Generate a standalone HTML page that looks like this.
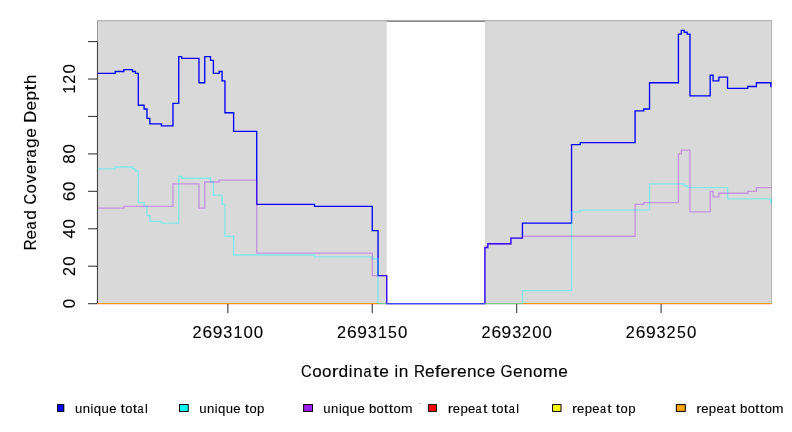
<!DOCTYPE html>
<html><head><meta charset="utf-8"><style>
html,body{margin:0;padding:0;background:#fff;width:792px;height:432px;overflow:hidden}
svg{display:block;will-change:transform}
</style></head><body>
<svg width="792" height="432" viewBox="0 0 792 432">
<rect width="792" height="432" fill="#fff"/>
<rect x="97.5" y="20.5" width="674.0" height="283.0" fill="#d9d9d9" stroke="#b3b3b3" stroke-width="1"/>
<line x1="97.5" y1="21.5" x2="771.0" y2="21.5" stroke="#cfcfcf" stroke-width="1"/>
<line x1="97.5" y1="21" x2="97.5" y2="41.57" stroke="#959595" stroke-width="1"/>
<line x1="98.5" y1="21" x2="98.5" y2="303.66" stroke="#e2e2e2" stroke-width="1"/>
<rect x="386.70" y="21" width="98.20" height="282.66" fill="#fff"/>
<line x1="386.70" y1="21.3" x2="484.90" y2="21.3" stroke="#8a8a8a" stroke-width="1.2"/>
<line x1="97.5" y1="41.57" x2="97.5" y2="303.66" stroke="#444" stroke-width="1.15"/>
<line x1="88" y1="303.66" x2="97.5" y2="303.66" stroke="#444" stroke-width="1.15"/>
<line x1="88" y1="266.22" x2="97.5" y2="266.22" stroke="#444" stroke-width="1.15"/>
<line x1="88" y1="228.78" x2="97.5" y2="228.78" stroke="#444" stroke-width="1.15"/>
<line x1="88" y1="191.34" x2="97.5" y2="191.34" stroke="#444" stroke-width="1.15"/>
<line x1="88" y1="153.90" x2="97.5" y2="153.90" stroke="#444" stroke-width="1.15"/>
<line x1="88" y1="116.46" x2="97.5" y2="116.46" stroke="#444" stroke-width="1.15"/>
<line x1="88" y1="79.02" x2="97.5" y2="79.02" stroke="#444" stroke-width="1.15"/>
<line x1="88" y1="41.57" x2="97.5" y2="41.57" stroke="#444" stroke-width="1.15"/>
<line x1="227.84" y1="303.66" x2="227.84" y2="313" stroke="#444" stroke-width="1.15"/>
<line x1="372.26" y1="303.66" x2="372.26" y2="313" stroke="#444" stroke-width="1.15"/>
<line x1="516.67" y1="303.66" x2="516.67" y2="313" stroke="#444" stroke-width="1.15"/>
<line x1="661.08" y1="303.66" x2="661.08" y2="313" stroke="#444" stroke-width="1.15"/>
<line x1="97.5" y1="304.5" x2="771.5" y2="304.5" stroke="#ff0000" stroke-opacity="0.15" stroke-width="1"/>
<line x1="97.5" y1="303.5" x2="386.70" y2="303.5" stroke="#ff9800" stroke-width="1"/>
<line x1="484.90" y1="303.5" x2="771.5" y2="303.5" stroke="#ff9800" stroke-width="1"/>
<path d="M97.50 73.40H115.20V71.53H123.86V69.66H132.53V71.53H135.42V73.40H138.31V105.22H144.08V108.97H146.97V118.33H149.86V123.94H161.41V125.82H172.97V103.35H178.74V56.55H181.63V58.42H198.96V82.76H204.74V56.55H210.51V60.29H213.40V73.40H219.18V71.53H222.07V80.89H224.95V112.71H233.62V131.43H256.73V204.44H314.49V206.31H372.26V230.65H378.03V275.58H386.70V303.66H484.90V247.50H487.79V243.75H510.89V238.14H522.45V223.16H571.55V144.54H580.21V142.66H635.09V110.84H643.76V108.97H649.53V82.76H678.41V34.09H681.30V30.34H684.19V32.21H687.08V34.09H689.97V95.86H710.19V75.27H713.07V80.89H718.85V77.14H727.52V88.38H747.73V86.50H756.40V82.76H770.84V86.50H771.50" fill="none" stroke="#0000ff" stroke-width="1.33"/>
<path d="M97.50 168.87H115.20V167.00H132.53V168.87H135.42V170.75H138.31V202.57H144.08V206.31H146.97V215.67H149.86V221.29H161.41V223.16H178.74V176.36H181.63V178.23H210.51V181.98H213.40V195.08H222.07V204.44H224.95V236.27H233.62V254.99H314.49V256.86H372.26V258.73H378.03V303.66H522.45V290.56H571.55V211.93H580.21V210.06H649.53V183.85H684.19V185.72H687.08V187.59H727.52V198.83H770.84V202.57H771.50" fill="none" stroke="#00ffff" stroke-opacity="0.4" stroke-width="1.33"/>
<path d="M97.50 208.19H123.86V206.31H172.97V183.85H198.96V208.19H204.74V181.98H219.18V180.11H256.73V253.11H372.26V275.58H386.70V303.66H484.90V247.50H487.79V243.75H510.89V238.14H522.45V236.27H635.09V204.44H643.76V202.57H678.41V153.90H681.30V150.15H689.97V211.93H710.19V191.34H713.07V196.95H718.85V193.21H747.73V191.34H756.40V187.59H770.84V187.59H771.50" fill="none" stroke="#a020f0" stroke-opacity="0.38" stroke-width="1.33"/>
<line x1="378.63" y1="303.5" x2="386.10" y2="303.5" stroke="rgb(115,205,130)" stroke-width="1"/>
<line x1="485.50" y1="303.5" x2="521.85" y2="303.5" stroke="rgb(115,205,130)" stroke-width="1"/>
<text transform="translate(192.57 337.70) scale(0.991 1)" font-family="Liberation Sans, sans-serif" font-size="16.4" fill="#000" stroke="#000" stroke-width="0.121">2</text>
<text transform="translate(202.62 337.70) scale(1.064 1)" font-family="Liberation Sans, sans-serif" font-size="16.4" fill="#000" stroke="#000" stroke-width="0.113">6</text>
<text transform="translate(212.76 337.70) scale(1.062 1)" font-family="Liberation Sans, sans-serif" font-size="16.4" fill="#000" stroke="#000" stroke-width="0.113">9</text>
<text transform="translate(223.36 337.70) scale(0.988 1)" font-family="Liberation Sans, sans-serif" font-size="16.4" fill="#000" stroke="#000" stroke-width="0.121">3</text>
<text transform="translate(233.46 337.70) scale(0.982 1)" font-family="Liberation Sans, sans-serif" font-size="16.4" fill="#000" stroke="#000" stroke-width="0.122">1</text>
<text transform="translate(243.51 337.70) scale(1.028 1)" font-family="Liberation Sans, sans-serif" font-size="16.4" fill="#000" stroke="#000" stroke-width="0.117">0</text>
<text transform="translate(253.69 337.70) scale(1.028 1)" font-family="Liberation Sans, sans-serif" font-size="16.4" fill="#000" stroke="#000" stroke-width="0.117">0</text>
<text transform="translate(336.98 337.70) scale(0.991 1)" font-family="Liberation Sans, sans-serif" font-size="16.4" fill="#000" stroke="#000" stroke-width="0.121">2</text>
<text transform="translate(347.04 337.70) scale(1.064 1)" font-family="Liberation Sans, sans-serif" font-size="16.4" fill="#000" stroke="#000" stroke-width="0.113">6</text>
<text transform="translate(357.18 337.70) scale(1.062 1)" font-family="Liberation Sans, sans-serif" font-size="16.4" fill="#000" stroke="#000" stroke-width="0.113">9</text>
<text transform="translate(367.77 337.70) scale(0.988 1)" font-family="Liberation Sans, sans-serif" font-size="16.4" fill="#000" stroke="#000" stroke-width="0.121">3</text>
<text transform="translate(377.88 337.70) scale(0.982 1)" font-family="Liberation Sans, sans-serif" font-size="16.4" fill="#000" stroke="#000" stroke-width="0.122">1</text>
<text transform="translate(388.12 337.70) scale(0.971 1)" font-family="Liberation Sans, sans-serif" font-size="16.4" fill="#000" stroke="#000" stroke-width="0.124">5</text>
<text transform="translate(398.10 337.70) scale(1.028 1)" font-family="Liberation Sans, sans-serif" font-size="16.4" fill="#000" stroke="#000" stroke-width="0.117">0</text>
<text transform="translate(481.40 337.70) scale(0.991 1)" font-family="Liberation Sans, sans-serif" font-size="16.4" fill="#000" stroke="#000" stroke-width="0.121">2</text>
<text transform="translate(491.45 337.70) scale(1.064 1)" font-family="Liberation Sans, sans-serif" font-size="16.4" fill="#000" stroke="#000" stroke-width="0.113">6</text>
<text transform="translate(501.59 337.70) scale(1.062 1)" font-family="Liberation Sans, sans-serif" font-size="16.4" fill="#000" stroke="#000" stroke-width="0.113">9</text>
<text transform="translate(512.18 337.70) scale(0.988 1)" font-family="Liberation Sans, sans-serif" font-size="16.4" fill="#000" stroke="#000" stroke-width="0.121">3</text>
<text transform="translate(522.12 337.70) scale(0.991 1)" font-family="Liberation Sans, sans-serif" font-size="16.4" fill="#000" stroke="#000" stroke-width="0.121">2</text>
<text transform="translate(532.34 337.70) scale(1.028 1)" font-family="Liberation Sans, sans-serif" font-size="16.4" fill="#000" stroke="#000" stroke-width="0.117">0</text>
<text transform="translate(542.52 337.70) scale(1.028 1)" font-family="Liberation Sans, sans-serif" font-size="16.4" fill="#000" stroke="#000" stroke-width="0.117">0</text>
<text transform="translate(625.81 337.70) scale(0.991 1)" font-family="Liberation Sans, sans-serif" font-size="16.4" fill="#000" stroke="#000" stroke-width="0.121">2</text>
<text transform="translate(635.87 337.70) scale(1.064 1)" font-family="Liberation Sans, sans-serif" font-size="16.4" fill="#000" stroke="#000" stroke-width="0.113">6</text>
<text transform="translate(646.01 337.70) scale(1.062 1)" font-family="Liberation Sans, sans-serif" font-size="16.4" fill="#000" stroke="#000" stroke-width="0.113">9</text>
<text transform="translate(656.60 337.70) scale(0.988 1)" font-family="Liberation Sans, sans-serif" font-size="16.4" fill="#000" stroke="#000" stroke-width="0.121">3</text>
<text transform="translate(666.53 337.70) scale(0.991 1)" font-family="Liberation Sans, sans-serif" font-size="16.4" fill="#000" stroke="#000" stroke-width="0.121">2</text>
<text transform="translate(676.95 337.70) scale(0.971 1)" font-family="Liberation Sans, sans-serif" font-size="16.4" fill="#000" stroke="#000" stroke-width="0.124">5</text>
<text transform="translate(686.93 337.70) scale(1.028 1)" font-family="Liberation Sans, sans-serif" font-size="16.4" fill="#000" stroke="#000" stroke-width="0.117">0</text>
<text transform="translate(75.2 303.66) rotate(-90) translate(-4.69 0.00) scale(1.028 1)" font-family="Liberation Sans, sans-serif" font-size="16.4" fill="#000" stroke="#000" stroke-width="0.117">0</text>
<text transform="translate(75.2 266.22) rotate(-90) translate(-9.83 0.00) scale(0.991 1)" font-family="Liberation Sans, sans-serif" font-size="16.4" fill="#000" stroke="#000" stroke-width="0.121">2</text>
<text transform="translate(75.2 266.22) rotate(-90) translate(0.40 0.00) scale(1.028 1)" font-family="Liberation Sans, sans-serif" font-size="16.4" fill="#000" stroke="#000" stroke-width="0.117">0</text>
<text transform="translate(75.2 228.78) rotate(-90) translate(-9.79 0.00) scale(1.029 1)" font-family="Liberation Sans, sans-serif" font-size="16.4" fill="#000" stroke="#000" stroke-width="0.117">4</text>
<text transform="translate(75.2 228.78) rotate(-90) translate(0.40 0.00) scale(1.028 1)" font-family="Liberation Sans, sans-serif" font-size="16.4" fill="#000" stroke="#000" stroke-width="0.117">0</text>
<text transform="translate(75.2 191.34) rotate(-90) translate(-9.95 0.00) scale(1.064 1)" font-family="Liberation Sans, sans-serif" font-size="16.4" fill="#000" stroke="#000" stroke-width="0.113">6</text>
<text transform="translate(75.2 191.34) rotate(-90) translate(0.40 0.00) scale(1.028 1)" font-family="Liberation Sans, sans-serif" font-size="16.4" fill="#000" stroke="#000" stroke-width="0.117">0</text>
<text transform="translate(75.2 153.90) rotate(-90) translate(-9.83 0.00) scale(1.040 1)" font-family="Liberation Sans, sans-serif" font-size="16.4" fill="#000" stroke="#000" stroke-width="0.115">8</text>
<text transform="translate(75.2 153.90) rotate(-90) translate(0.40 0.00) scale(1.028 1)" font-family="Liberation Sans, sans-serif" font-size="16.4" fill="#000" stroke="#000" stroke-width="0.117">0</text>
<text transform="translate(75.2 79.02) rotate(-90) translate(-14.74 0.00) scale(0.982 1)" font-family="Liberation Sans, sans-serif" font-size="16.4" fill="#000" stroke="#000" stroke-width="0.122">1</text>
<text transform="translate(75.2 79.02) rotate(-90) translate(-4.74 0.00) scale(0.991 1)" font-family="Liberation Sans, sans-serif" font-size="16.4" fill="#000" stroke="#000" stroke-width="0.121">2</text>
<text transform="translate(75.2 79.02) rotate(-90) translate(5.49 0.00) scale(1.028 1)" font-family="Liberation Sans, sans-serif" font-size="16.4" fill="#000" stroke="#000" stroke-width="0.117">0</text>
<text transform="translate(35.6 162.5) rotate(-90) translate(-87.93 0.00) scale(0.916 1)" font-family="Liberation Sans, sans-serif" font-size="16.7" fill="#000" stroke="#000" stroke-width="0.131">R</text>
<text transform="translate(35.6 162.5) rotate(-90) translate(-76.98 0.00) scale(1.035 1)" font-family="Liberation Sans, sans-serif" font-size="16.7" fill="#000" stroke="#000" stroke-width="0.116">e</text>
<text transform="translate(35.6 162.5) rotate(-90) translate(-66.93 0.00) scale(0.862 1)" font-family="Liberation Sans, sans-serif" font-size="16.7" fill="#000" stroke="#000" stroke-width="0.139">a</text>
<text transform="translate(35.6 162.5) rotate(-90) translate(-57.32 0.00) scale(1.041 1)" font-family="Liberation Sans, sans-serif" font-size="16.7" fill="#000" stroke="#000" stroke-width="0.115">d</text>
<text transform="translate(35.6 162.5) rotate(-90) translate(-42.09 0.00) scale(0.889 1)" font-family="Liberation Sans, sans-serif" font-size="16.7" fill="#000" stroke="#000" stroke-width="0.135">C</text>
<text transform="translate(35.6 162.5) rotate(-90) translate(-30.89 0.00) scale(1.019 1)" font-family="Liberation Sans, sans-serif" font-size="16.7" fill="#000" stroke="#000" stroke-width="0.118">o</text>
<text transform="translate(35.6 162.5) rotate(-90) translate(-20.86 0.00) scale(1.034 1)" font-family="Liberation Sans, sans-serif" font-size="16.7" fill="#000" stroke="#000" stroke-width="0.116">v</text>
<text transform="translate(35.6 162.5) rotate(-90) translate(-11.66 0.00) scale(1.035 1)" font-family="Liberation Sans, sans-serif" font-size="16.7" fill="#000" stroke="#000" stroke-width="0.116">e</text>
<text transform="translate(35.6 162.5) rotate(-90) translate(-1.87 0.00) scale(1.228 1)" font-family="Liberation Sans, sans-serif" font-size="16.7" fill="#000" stroke="#000" stroke-width="0.098">r</text>
<text transform="translate(35.6 162.5) rotate(-90) translate(4.97 0.00) scale(0.862 1)" font-family="Liberation Sans, sans-serif" font-size="16.7" fill="#000" stroke="#000" stroke-width="0.139">a</text>
<text transform="translate(35.6 162.5) rotate(-90) translate(14.57 0.00) scale(1.041 1)" font-family="Liberation Sans, sans-serif" font-size="16.7" fill="#000" stroke="#000" stroke-width="0.115">g</text>
<text transform="translate(35.6 162.5) rotate(-90) translate(24.73 0.00) scale(1.035 1)" font-family="Liberation Sans, sans-serif" font-size="16.7" fill="#000" stroke="#000" stroke-width="0.116">e</text>
<text transform="translate(35.6 162.5) rotate(-90) translate(39.72 0.00) scale(0.991 1)" font-family="Liberation Sans, sans-serif" font-size="16.7" fill="#000" stroke="#000" stroke-width="0.121">D</text>
<text transform="translate(35.6 162.5) rotate(-90) translate(51.98 0.00) scale(1.035 1)" font-family="Liberation Sans, sans-serif" font-size="16.7" fill="#000" stroke="#000" stroke-width="0.116">e</text>
<text transform="translate(35.6 162.5) rotate(-90) translate(62.00 0.00) scale(1.042 1)" font-family="Liberation Sans, sans-serif" font-size="16.7" fill="#000" stroke="#000" stroke-width="0.115">p</text>
<text transform="translate(35.6 162.5) rotate(-90) translate(71.93 0.00) scale(1.280 1)" font-family="Liberation Sans, sans-serif" font-size="16.7" fill="#000" stroke="#000" stroke-width="0.094">t</text>
<text transform="translate(35.6 162.5) rotate(-90) translate(78.35 0.00) scale(1.040 1)" font-family="Liberation Sans, sans-serif" font-size="16.7" fill="#000" stroke="#000" stroke-width="0.115">h</text>
<text transform="translate(301.11 376.60) scale(0.889 1)" font-family="Liberation Sans, sans-serif" font-size="16.7" fill="#000" stroke="#000" stroke-width="0.135">C</text>
<text transform="translate(312.30 376.60) scale(1.019 1)" font-family="Liberation Sans, sans-serif" font-size="16.7" fill="#000" stroke="#000" stroke-width="0.118">o</text>
<text transform="translate(322.09 376.60) scale(1.019 1)" font-family="Liberation Sans, sans-serif" font-size="16.7" fill="#000" stroke="#000" stroke-width="0.118">o</text>
<text transform="translate(331.80 376.60) scale(1.228 1)" font-family="Liberation Sans, sans-serif" font-size="16.7" fill="#000" stroke="#000" stroke-width="0.098">r</text>
<text transform="translate(338.44 376.60) scale(1.041 1)" font-family="Liberation Sans, sans-serif" font-size="16.7" fill="#000" stroke="#000" stroke-width="0.115">d</text>
<text transform="translate(348.86 376.60) scale(0.979 1)" font-family="Liberation Sans, sans-serif" font-size="16.7" fill="#000" stroke="#000" stroke-width="0.123">i</text>
<text transform="translate(353.20 376.60) scale(1.033 1)" font-family="Liberation Sans, sans-serif" font-size="16.7" fill="#000" stroke="#000" stroke-width="0.116">n</text>
<text transform="translate(363.38 376.60) scale(0.862 1)" font-family="Liberation Sans, sans-serif" font-size="16.7" fill="#000" stroke="#000" stroke-width="0.139">a</text>
<text transform="translate(372.94 376.60) scale(1.280 1)" font-family="Liberation Sans, sans-serif" font-size="16.7" fill="#000" stroke="#000" stroke-width="0.094">t</text>
<text transform="translate(379.26 376.60) scale(1.035 1)" font-family="Liberation Sans, sans-serif" font-size="16.7" fill="#000" stroke="#000" stroke-width="0.116">e</text>
<text transform="translate(394.45 376.60) scale(0.979 1)" font-family="Liberation Sans, sans-serif" font-size="16.7" fill="#000" stroke="#000" stroke-width="0.123">i</text>
<text transform="translate(398.79 376.60) scale(1.033 1)" font-family="Liberation Sans, sans-serif" font-size="16.7" fill="#000" stroke="#000" stroke-width="0.116">n</text>
<text transform="translate(414.03 376.60) scale(0.916 1)" font-family="Liberation Sans, sans-serif" font-size="16.7" fill="#000" stroke="#000" stroke-width="0.131">R</text>
<text transform="translate(424.98 376.60) scale(1.035 1)" font-family="Liberation Sans, sans-serif" font-size="16.7" fill="#000" stroke="#000" stroke-width="0.116">e</text>
<text transform="translate(434.74 376.60) scale(1.258 1)" font-family="Liberation Sans, sans-serif" font-size="16.7" fill="#000" stroke="#000" stroke-width="0.095">f</text>
<text transform="translate(440.45 376.60) scale(1.035 1)" font-family="Liberation Sans, sans-serif" font-size="16.7" fill="#000" stroke="#000" stroke-width="0.116">e</text>
<text transform="translate(450.24 376.60) scale(1.228 1)" font-family="Liberation Sans, sans-serif" font-size="16.7" fill="#000" stroke="#000" stroke-width="0.098">r</text>
<text transform="translate(456.88 376.60) scale(1.035 1)" font-family="Liberation Sans, sans-serif" font-size="16.7" fill="#000" stroke="#000" stroke-width="0.116">e</text>
<text transform="translate(466.88 376.60) scale(1.033 1)" font-family="Liberation Sans, sans-serif" font-size="16.7" fill="#000" stroke="#000" stroke-width="0.116">n</text>
<text transform="translate(476.91 376.60) scale(0.961 1)" font-family="Liberation Sans, sans-serif" font-size="16.7" fill="#000" stroke="#000" stroke-width="0.125">c</text>
<text transform="translate(485.66 376.60) scale(1.035 1)" font-family="Liberation Sans, sans-serif" font-size="16.7" fill="#000" stroke="#000" stroke-width="0.116">e</text>
<text transform="translate(500.55 376.60) scale(0.934 1)" font-family="Liberation Sans, sans-serif" font-size="16.7" fill="#000" stroke="#000" stroke-width="0.128">G</text>
<text transform="translate(512.98 376.60) scale(1.035 1)" font-family="Liberation Sans, sans-serif" font-size="16.7" fill="#000" stroke="#000" stroke-width="0.116">e</text>
<text transform="translate(522.99 376.60) scale(1.033 1)" font-family="Liberation Sans, sans-serif" font-size="16.7" fill="#000" stroke="#000" stroke-width="0.116">n</text>
<text transform="translate(532.99 376.60) scale(1.019 1)" font-family="Liberation Sans, sans-serif" font-size="16.7" fill="#000" stroke="#000" stroke-width="0.118">o</text>
<text transform="translate(542.85 376.60) scale(1.092 1)" font-family="Liberation Sans, sans-serif" font-size="16.7" fill="#000" stroke="#000" stroke-width="0.110">m</text>
<text transform="translate(558.34 376.60) scale(1.035 1)" font-family="Liberation Sans, sans-serif" font-size="16.7" fill="#000" stroke="#000" stroke-width="0.116">e</text>
<rect x="57.60" y="404.6" width="6.20" height="6.8" fill="#0000ff" stroke="#000" stroke-width="1"/>
<text transform="translate(75.05 412.60) scale(1.065 1)" font-family="Liberation Sans, sans-serif" font-size="12.3" fill="#000" stroke="#000" stroke-width="0.113">u</text>
<text transform="translate(82.80 412.60) scale(1.065 1)" font-family="Liberation Sans, sans-serif" font-size="12.3" fill="#000" stroke="#000" stroke-width="0.113">n</text>
<text transform="translate(90.58 412.60) scale(1.010 1)" font-family="Liberation Sans, sans-serif" font-size="12.3" fill="#000" stroke="#000" stroke-width="0.119">i</text>
<text transform="translate(93.76 412.60) scale(1.072 1)" font-family="Liberation Sans, sans-serif" font-size="12.3" fill="#000" stroke="#000" stroke-width="0.112">q</text>
<text transform="translate(101.54 412.60) scale(1.065 1)" font-family="Liberation Sans, sans-serif" font-size="12.3" fill="#000" stroke="#000" stroke-width="0.113">u</text>
<text transform="translate(109.17 412.60) scale(1.067 1)" font-family="Liberation Sans, sans-serif" font-size="12.3" fill="#000" stroke="#000" stroke-width="0.112">e</text>
<text transform="translate(120.51 412.60) scale(1.300 1)" font-family="Liberation Sans, sans-serif" font-size="12.3" fill="#000" stroke="#000" stroke-width="0.092">t</text>
<text transform="translate(125.29 412.60) scale(1.050 1)" font-family="Liberation Sans, sans-serif" font-size="12.3" fill="#000" stroke="#000" stroke-width="0.114">o</text>
<text transform="translate(132.71 412.60) scale(1.300 1)" font-family="Liberation Sans, sans-serif" font-size="12.3" fill="#000" stroke="#000" stroke-width="0.092">t</text>
<text transform="translate(137.62 412.60) scale(0.888 1)" font-family="Liberation Sans, sans-serif" font-size="12.3" fill="#000" stroke="#000" stroke-width="0.135">a</text>
<text transform="translate(145.11 412.60) scale(1.010 1)" font-family="Liberation Sans, sans-serif" font-size="12.3" fill="#000" stroke="#000" stroke-width="0.119">l</text>
<rect x="179.50" y="404.6" width="8.75" height="6.8" fill="#00ffff" stroke="#000" stroke-width="1"/>
<text transform="translate(199.25 412.60) scale(1.065 1)" font-family="Liberation Sans, sans-serif" font-size="12.3" fill="#000" stroke="#000" stroke-width="0.113">u</text>
<text transform="translate(207.00 412.60) scale(1.065 1)" font-family="Liberation Sans, sans-serif" font-size="12.3" fill="#000" stroke="#000" stroke-width="0.113">n</text>
<text transform="translate(214.78 412.60) scale(1.010 1)" font-family="Liberation Sans, sans-serif" font-size="12.3" fill="#000" stroke="#000" stroke-width="0.119">i</text>
<text transform="translate(217.96 412.60) scale(1.072 1)" font-family="Liberation Sans, sans-serif" font-size="12.3" fill="#000" stroke="#000" stroke-width="0.112">q</text>
<text transform="translate(225.74 412.60) scale(1.065 1)" font-family="Liberation Sans, sans-serif" font-size="12.3" fill="#000" stroke="#000" stroke-width="0.113">u</text>
<text transform="translate(233.37 412.60) scale(1.067 1)" font-family="Liberation Sans, sans-serif" font-size="12.3" fill="#000" stroke="#000" stroke-width="0.112">e</text>
<text transform="translate(244.71 412.60) scale(1.300 1)" font-family="Liberation Sans, sans-serif" font-size="12.3" fill="#000" stroke="#000" stroke-width="0.092">t</text>
<text transform="translate(249.49 412.60) scale(1.050 1)" font-family="Liberation Sans, sans-serif" font-size="12.3" fill="#000" stroke="#000" stroke-width="0.114">o</text>
<text transform="translate(257.04 412.60) scale(1.075 1)" font-family="Liberation Sans, sans-serif" font-size="12.3" fill="#000" stroke="#000" stroke-width="0.112">p</text>
<rect x="303.60" y="404.6" width="8.90" height="6.8" fill="#a020f0" stroke="#000" stroke-width="1"/>
<text transform="translate(323.35 412.60) scale(1.065 1)" font-family="Liberation Sans, sans-serif" font-size="12.3" fill="#000" stroke="#000" stroke-width="0.113">u</text>
<text transform="translate(331.10 412.60) scale(1.065 1)" font-family="Liberation Sans, sans-serif" font-size="12.3" fill="#000" stroke="#000" stroke-width="0.113">n</text>
<text transform="translate(338.88 412.60) scale(1.010 1)" font-family="Liberation Sans, sans-serif" font-size="12.3" fill="#000" stroke="#000" stroke-width="0.119">i</text>
<text transform="translate(342.06 412.60) scale(1.072 1)" font-family="Liberation Sans, sans-serif" font-size="12.3" fill="#000" stroke="#000" stroke-width="0.112">q</text>
<text transform="translate(349.84 412.60) scale(1.065 1)" font-family="Liberation Sans, sans-serif" font-size="12.3" fill="#000" stroke="#000" stroke-width="0.113">u</text>
<text transform="translate(357.47 412.60) scale(1.067 1)" font-family="Liberation Sans, sans-serif" font-size="12.3" fill="#000" stroke="#000" stroke-width="0.112">e</text>
<text transform="translate(368.95 412.60) scale(1.075 1)" font-family="Liberation Sans, sans-serif" font-size="12.3" fill="#000" stroke="#000" stroke-width="0.112">b</text>
<text transform="translate(376.54 412.60) scale(1.050 1)" font-family="Liberation Sans, sans-serif" font-size="12.3" fill="#000" stroke="#000" stroke-width="0.114">o</text>
<text transform="translate(383.96 412.60) scale(1.300 1)" font-family="Liberation Sans, sans-serif" font-size="12.3" fill="#000" stroke="#000" stroke-width="0.092">t</text>
<text transform="translate(388.72 412.60) scale(1.300 1)" font-family="Liberation Sans, sans-serif" font-size="12.3" fill="#000" stroke="#000" stroke-width="0.092">t</text>
<text transform="translate(393.50 412.60) scale(1.050 1)" font-family="Liberation Sans, sans-serif" font-size="12.3" fill="#000" stroke="#000" stroke-width="0.114">o</text>
<text transform="translate(400.99 412.60) scale(1.125 1)" font-family="Liberation Sans, sans-serif" font-size="12.3" fill="#000" stroke="#000" stroke-width="0.107">m</text>
<rect x="428.60" y="404.6" width="7.80" height="6.8" fill="#ff0000" stroke="#000" stroke-width="1"/>
<text transform="translate(447.77 412.60) scale(1.266 1)" font-family="Liberation Sans, sans-serif" font-size="12.3" fill="#000" stroke="#000" stroke-width="0.095">r</text>
<text transform="translate(452.80 412.60) scale(1.067 1)" font-family="Liberation Sans, sans-serif" font-size="12.3" fill="#000" stroke="#000" stroke-width="0.112">e</text>
<text transform="translate(460.42 412.60) scale(1.075 1)" font-family="Liberation Sans, sans-serif" font-size="12.3" fill="#000" stroke="#000" stroke-width="0.112">p</text>
<text transform="translate(467.99 412.60) scale(1.067 1)" font-family="Liberation Sans, sans-serif" font-size="12.3" fill="#000" stroke="#000" stroke-width="0.112">e</text>
<text transform="translate(475.62 412.60) scale(0.888 1)" font-family="Liberation Sans, sans-serif" font-size="12.3" fill="#000" stroke="#000" stroke-width="0.135">a</text>
<text transform="translate(482.92 412.60) scale(1.300 1)" font-family="Liberation Sans, sans-serif" font-size="12.3" fill="#000" stroke="#000" stroke-width="0.092">t</text>
<text transform="translate(491.54 412.60) scale(1.300 1)" font-family="Liberation Sans, sans-serif" font-size="12.3" fill="#000" stroke="#000" stroke-width="0.092">t</text>
<text transform="translate(496.32 412.60) scale(1.050 1)" font-family="Liberation Sans, sans-serif" font-size="12.3" fill="#000" stroke="#000" stroke-width="0.114">o</text>
<text transform="translate(503.74 412.60) scale(1.300 1)" font-family="Liberation Sans, sans-serif" font-size="12.3" fill="#000" stroke="#000" stroke-width="0.092">t</text>
<text transform="translate(508.65 412.60) scale(0.888 1)" font-family="Liberation Sans, sans-serif" font-size="12.3" fill="#000" stroke="#000" stroke-width="0.135">a</text>
<text transform="translate(516.14 412.60) scale(1.010 1)" font-family="Liberation Sans, sans-serif" font-size="12.3" fill="#000" stroke="#000" stroke-width="0.119">l</text>
<rect x="552.60" y="404.6" width="8.40" height="6.8" fill="#ffff00" stroke="#000" stroke-width="1"/>
<text transform="translate(572.07 412.60) scale(1.266 1)" font-family="Liberation Sans, sans-serif" font-size="12.3" fill="#000" stroke="#000" stroke-width="0.095">r</text>
<text transform="translate(577.10 412.60) scale(1.067 1)" font-family="Liberation Sans, sans-serif" font-size="12.3" fill="#000" stroke="#000" stroke-width="0.112">e</text>
<text transform="translate(584.72 412.60) scale(1.075 1)" font-family="Liberation Sans, sans-serif" font-size="12.3" fill="#000" stroke="#000" stroke-width="0.112">p</text>
<text transform="translate(592.29 412.60) scale(1.067 1)" font-family="Liberation Sans, sans-serif" font-size="12.3" fill="#000" stroke="#000" stroke-width="0.112">e</text>
<text transform="translate(599.92 412.60) scale(0.888 1)" font-family="Liberation Sans, sans-serif" font-size="12.3" fill="#000" stroke="#000" stroke-width="0.135">a</text>
<text transform="translate(607.22 412.60) scale(1.300 1)" font-family="Liberation Sans, sans-serif" font-size="12.3" fill="#000" stroke="#000" stroke-width="0.092">t</text>
<text transform="translate(615.84 412.60) scale(1.300 1)" font-family="Liberation Sans, sans-serif" font-size="12.3" fill="#000" stroke="#000" stroke-width="0.092">t</text>
<text transform="translate(620.62 412.60) scale(1.050 1)" font-family="Liberation Sans, sans-serif" font-size="12.3" fill="#000" stroke="#000" stroke-width="0.114">o</text>
<text transform="translate(628.17 412.60) scale(1.075 1)" font-family="Liberation Sans, sans-serif" font-size="12.3" fill="#000" stroke="#000" stroke-width="0.112">p</text>
<rect x="676.30" y="404.6" width="9.00" height="6.8" fill="#ffa500" stroke="#000" stroke-width="1"/>
<text transform="translate(696.17 412.60) scale(1.266 1)" font-family="Liberation Sans, sans-serif" font-size="12.3" fill="#000" stroke="#000" stroke-width="0.095">r</text>
<text transform="translate(701.20 412.60) scale(1.067 1)" font-family="Liberation Sans, sans-serif" font-size="12.3" fill="#000" stroke="#000" stroke-width="0.112">e</text>
<text transform="translate(708.82 412.60) scale(1.075 1)" font-family="Liberation Sans, sans-serif" font-size="12.3" fill="#000" stroke="#000" stroke-width="0.112">p</text>
<text transform="translate(716.39 412.60) scale(1.067 1)" font-family="Liberation Sans, sans-serif" font-size="12.3" fill="#000" stroke="#000" stroke-width="0.112">e</text>
<text transform="translate(724.02 412.60) scale(0.888 1)" font-family="Liberation Sans, sans-serif" font-size="12.3" fill="#000" stroke="#000" stroke-width="0.135">a</text>
<text transform="translate(731.32 412.60) scale(1.300 1)" font-family="Liberation Sans, sans-serif" font-size="12.3" fill="#000" stroke="#000" stroke-width="0.092">t</text>
<text transform="translate(740.08 412.60) scale(1.075 1)" font-family="Liberation Sans, sans-serif" font-size="12.3" fill="#000" stroke="#000" stroke-width="0.112">b</text>
<text transform="translate(747.67 412.60) scale(1.050 1)" font-family="Liberation Sans, sans-serif" font-size="12.3" fill="#000" stroke="#000" stroke-width="0.114">o</text>
<text transform="translate(755.09 412.60) scale(1.300 1)" font-family="Liberation Sans, sans-serif" font-size="12.3" fill="#000" stroke="#000" stroke-width="0.092">t</text>
<text transform="translate(759.85 412.60) scale(1.300 1)" font-family="Liberation Sans, sans-serif" font-size="12.3" fill="#000" stroke="#000" stroke-width="0.092">t</text>
<text transform="translate(764.63 412.60) scale(1.050 1)" font-family="Liberation Sans, sans-serif" font-size="12.3" fill="#000" stroke="#000" stroke-width="0.114">o</text>
<text transform="translate(772.12 412.60) scale(1.125 1)" font-family="Liberation Sans, sans-serif" font-size="12.3" fill="#000" stroke="#000" stroke-width="0.107">m</text>
<line x1="419.2" y1="403.5" x2="420.8" y2="403.5" stroke="#b0b0b0" stroke-width="0.8"/>
</svg>
</body></html>
